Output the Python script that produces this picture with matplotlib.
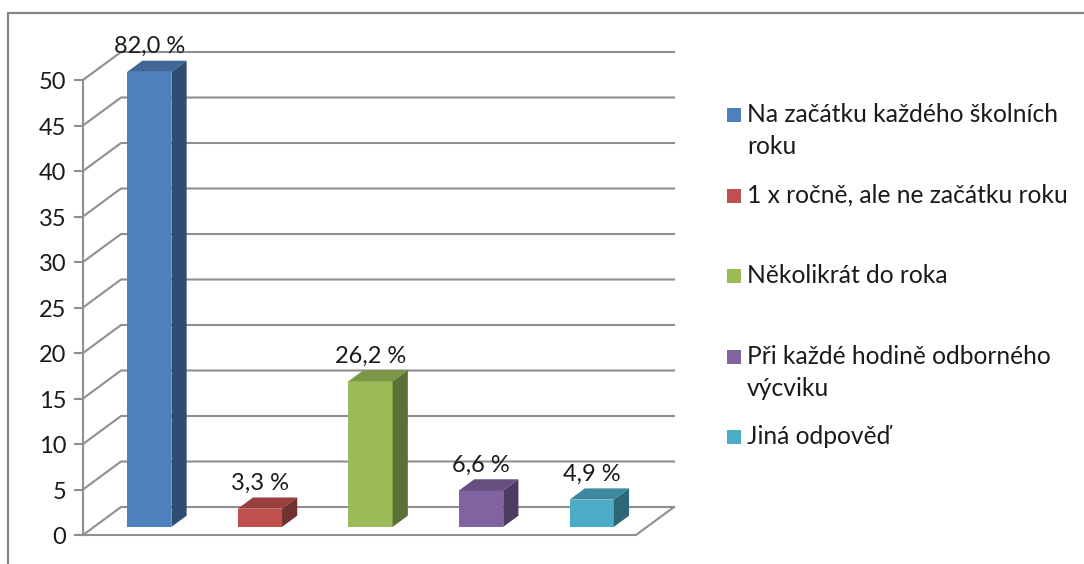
#!/usr/bin/env python3
"""Fake-3D column chart, drawn as polygons on a plain value axes."""

import matplotlib
matplotlib.use("Agg")
import matplotlib.pyplot as plt
from matplotlib.lines import Line2D
from matplotlib.patches import Polygon, Rectangle

W, H = 1084, 564

categories = [
    "Na začátku každého školních\nroku",
    "1 x ročně, ale ne začátku roku",
    "Několikrát do roka",
    "Při každé hodině odborného\nvýcviku",
    "Jiná odpověď",
]
values = [50, 2, 16, 4, 3]
labels = ["82,0 %", "3,3 %", "26,2 %", "6,6 %", "4,9 %"]
yticks = [0, 5, 10, 15, 20, 25, 30, 35, 40, 45, 50]

front = ["#4f81bd", "#c0504d", "#9bbb59", "#8064a2", "#4bacc6"]
top = ["#3f6797", "#993f3d", "#7c9647", "#664f81", "#3c899e"]
side = ["#2f4d71", "#73302e", "#5d7035", "#4c3c61", "#2d6776"]
legend_y = [115, 196, 276, 357, 437]

GRID = "#8f8f8f"
TEXT = "#1a1a1a"

plt.rcParams["font.family"] = ["Lato", "DejaVu Sans"]

fig = plt.figure(figsize=(W / 100, H / 100), dpi=100)
fig.patch.set_facecolor("white")

# only left and top of the frame are in the picture
fig.add_artist(Line2D([8 / W, 8 / W, 1], [0, (H - 13) / H, (H - 13) / H], transform=fig.transFigure,
                      color="#858585", linewidth=1.6))

ax = fig.add_axes([83 / W, (H - 535) / H, (636 - 83) / W, 455 / H])
ax.set_xlim(0, len(values))
ax.set_ylim(0, 50)
ax.axis("off")

# depth of the box in data units
dx = 38 / (636 - 83) * len(values)
dy = 28 / 455 * 50
bar_w = 0.40
bar_pos = 0.29
bar_depth = 0.40

for tick in yticks:
    ax.plot([0, dx, len(values) + dx], [tick, tick + dy, tick + dy], color=GRID, lw=1.5, clip_on=False, zorder=1)
    ax.plot([-0.07, 0], [tick, tick], color=GRID, lw=1.5, clip_on=False, zorder=1)
    ax.text(-0.15, tick - 0.3, str(tick), ha="right", va="center", fontsize=17, color=TEXT, clip_on=False)
ax.plot([0, 0], [0, 50], color=GRID, lw=1.5, clip_on=False, zorder=1)
ax.plot([0, len(values), len(values) + dx], [0, 0, dy], color=GRID, lw=1.5, clip_on=False, zorder=1)

for i, value in enumerate(values):
    x0 = i + 0.5 - bar_w / 2 + bar_pos * dx
    y0 = bar_pos * dy
    x1 = x0 + bar_w
    y1 = y0 + value
    ox = bar_depth * dx
    oy = bar_depth * dy
    ax.add_patch(Polygon([(x0, y0), (x1, y0), (x1, y1), (x0, y1)], facecolor=front[i], edgecolor="none", zorder=3, clip_on=False))
    ax.add_patch(Polygon([(x0, y1), (x1, y1), (x1 + ox, y1 + oy), (x0 + ox, y1 + oy)], facecolor=top[i], edgecolor="none", zorder=3, clip_on=False))
    ax.add_patch(Polygon([(x1, y0), (x1 + ox, y0 + oy), (x1 + ox, y1 + oy), (x1, y1)], facecolor=side[i], edgecolor="none", zorder=3, clip_on=False))
    ax.text(x0 + bar_w / 2, y1 + oy + 1.55, labels[i], ha="center", va="center", fontsize=17, color=TEXT, zorder=4, clip_on=False)

# legend, placed by hand like the original
for name, color, ypx in zip(categories, front, legend_y):
    fig.add_artist(Rectangle((727 / W, (H - ypx - 7) / H), 14 / W, 14 / H, transform=fig.transFigure,
                             facecolor=color, edgecolor="none"))
    for n, line in enumerate(name.split("\n")):
        fig.text(747 / W, (H - ypx - 7 - 32 * n) / H, line, ha="left", va="baseline", fontsize=17.7, color=TEXT)

fig.savefig("out.png", dpi=100)
